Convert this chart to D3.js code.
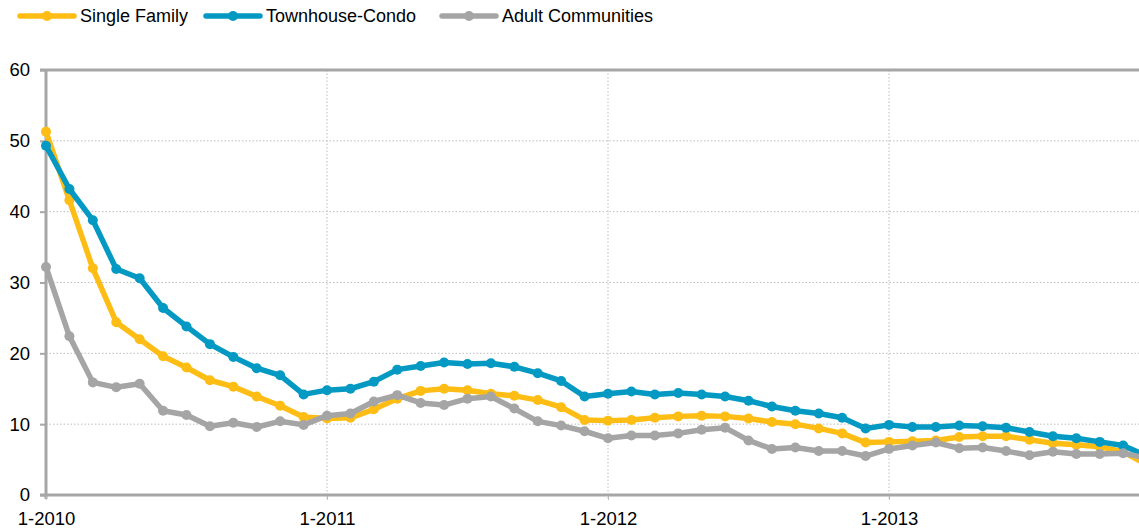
<!DOCTYPE html>
<html>
<head>
<meta charset="utf-8">
<script src="https://cdn.jsdelivr.net/npm/d3@7"></script>
<style>
  html, body { margin: 0; padding: 0; background: #fff; }
  svg { display: block; font-family: "Liberation Sans", Arial, Helvetica, sans-serif; }
</style>
</head>
<body>
<svg id="chart" width="1139" height="530"></svg>
<script>
// Monthly months-of-supply, Jan 2010 – Dec 2013
const months = d3.range(48).map(i => `${(i % 12) + 1}-${2010 + Math.floor(i / 12)}`);

const singleFamily = [
  51.3, 41.6, 32.0, 24.4, 22.0, 19.6, 18.0, 16.2, 15.3, 13.9, 12.6, 11.0,
  10.8, 10.9, 12.1, 13.6, 14.7, 15.0, 14.8, 14.3, 14.0, 13.4, 12.4, 10.6,
  10.5, 10.6, 10.9, 11.1, 11.2, 11.1, 10.8, 10.3, 10.0, 9.4, 8.7, 7.4,
  7.5, 7.6, 7.7, 8.2, 8.3, 8.3, 7.8, 7.3, 7.1, 6.8, 6.1, 4.3
];
const townhouseCondo = [
  49.3, 43.2, 38.8, 31.9, 30.6, 26.4, 23.8, 21.3, 19.5, 17.9, 16.9, 14.2,
  14.8, 15.0, 16.0, 17.7, 18.2, 18.7, 18.5, 18.6, 18.1, 17.2, 16.1, 13.9,
  14.3, 14.6, 14.2, 14.4, 14.2, 13.9, 13.3, 12.5, 11.9, 11.5, 10.9, 9.4,
  9.9, 9.6, 9.6, 9.8, 9.7, 9.5, 8.9, 8.3, 8.0, 7.5, 7.0, 5.5
];
const adultCommunities = [
  32.2, 22.4, 15.9, 15.2, 15.7, 11.9, 11.3, 9.7, 10.2, 9.6, 10.4, 9.9,
  11.2, 11.5, 13.2, 14.1, 13.0, 12.7, 13.6, 13.9, 12.2, 10.4, 9.8, 9.0,
  8.0, 8.4, 8.4, 8.7, 9.2, 9.5, 7.7, 6.5, 6.7, 6.2, 6.2, 5.5,
  6.5, 7.0, 7.4, 6.6, 6.7, 6.2, 5.6, 6.1, 5.8, 5.8, 5.9, 5.2
];
const seriesNames = ["Single Family", "Townhouse-Condo", "Adult Communities"];
const seriesColors = ["#fdbd14", "#0399c3", "#a5a5a5"];
const yTicks = [0, 10, 20, 30, 40, 50, 60];
const xTickMonths = [0, 12, 24, 36];

const series = [singleFamily, townhouseCondo, adultCommunities].map((values, k) => ({
  name: seriesNames[k], color: seriesColors[k], values
}));

const svg = d3.select("#chart");
const W = 1139;
const plotLeft = 46, plotTop = 70, plotBottom = 495;
const monthStep = 281 / 12;

const x = d3.scaleLinear().domain([0, 47]).range([plotLeft, plotLeft + 47 * monthStep]);
const y = d3.scaleLinear().domain([0, 60]).range([plotBottom, plotTop]);

const axisGray = "#a6a6a6";
const gridGray = "#bdbdbd";
const textColor = "#000";

// horizontal gridlines (dotted)
const g = svg.append("g");
g.selectAll("line.hgrid")
  .data(yTicks.filter(t => t > 0 && t < 60))
  .join("line")
  .attr("x1", plotLeft).attr("x2", W)
  .attr("y1", d => y(d)).attr("y2", d => y(d))
  .attr("stroke", gridGray).attr("stroke-width", 1)
  .attr("stroke-dasharray", "1.5,2");

// vertical gridlines at each January
g.selectAll("line.vgrid")
  .data(xTickMonths.slice(1))
  .join("line")
  .attr("x1", d => x(d)).attr("x2", d => x(d))
  .attr("y1", plotTop).attr("y2", plotBottom + 5)
  .attr("stroke", gridGray).attr("stroke-width", 1)
  .attr("stroke-dasharray", "1.5,2");

// top border line
g.append("line")
  .attr("x1", plotLeft - 6).attr("x2", W)
  .attr("y1", y(60)).attr("y2", y(60))
  .attr("stroke", axisGray).attr("stroke-width", 3);

// y axis
const yAxis = d3.axisLeft(y).tickValues(yTicks).tickSize(6).tickPadding(10);
const yAxisG = svg.append("g").attr("transform", `translate(${plotLeft},0)`).call(yAxis);
yAxisG.select(".domain").remove();
yAxisG.selectAll(".tick line").attr("stroke", axisGray).attr("stroke-width", 2);
yAxisG.selectAll(".tick text")
  .attr("font-size", 18.5).attr("fill", textColor)
  .attr("font-family", "Liberation Sans, Arial, sans-serif");
svg.append("line")
  .attr("x1", plotLeft).attr("x2", plotLeft)
  .attr("y1", plotTop).attr("y2", plotBottom + 4)
  .attr("stroke", axisGray).attr("stroke-width", 3);

// x axis
const xAxis = d3.axisBottom(x).tickValues(xTickMonths).tickFormat(i => months[i])
  .tickSize(5).tickPadding(12);
const xAxisG = svg.append("g").attr("transform", `translate(0,${plotBottom})`).call(xAxis);
xAxisG.select(".domain").remove();
xAxisG.selectAll(".tick line").attr("stroke", gridGray).attr("stroke-width", 1);
xAxisG.selectAll(".tick text")
  .attr("font-size", 18.5).attr("fill", textColor)
  .attr("font-family", "Liberation Sans, Arial, sans-serif");
svg.append("line")
  .attr("x1", plotLeft - 6).attr("x2", W)
  .attr("y1", plotBottom).attr("y2", plotBottom)
  .attr("stroke", axisGray).attr("stroke-width", 3);

// series lines with markers
const line = d3.line().x((d, i) => x(i)).y(d => y(d));
series.forEach(s => {
  const sg = svg.append("g");
  sg.append("path")
    .datum(s.values)
    .attr("d", line)
    .attr("fill", "none")
    .attr("stroke", s.color)
    .attr("stroke-width", 5.5)
    .attr("stroke-linejoin", "round")
    .attr("stroke-linecap", "round");
  sg.selectAll("circle")
    .data(s.values)
    .join("circle")
    .attr("cx", (d, i) => x(i))
    .attr("cy", d => y(d))
    .attr("r", 5)
    .attr("fill", s.color);
});

// legend
const legendX = [20, 206, 442];
const legend = svg.append("g");
series.forEach((s, k) => {
  const lg = legend.append("g").attr("transform", `translate(${legendX[k]},16)`);
  lg.append("line").attr("x1", 0).attr("x2", 54).attr("y1", 0).attr("y2", 0)
    .attr("stroke", s.color).attr("stroke-width", 5.5).attr("stroke-linecap", "round");
  lg.append("circle").attr("cx", 27).attr("cy", 0).attr("r", 5).attr("fill", s.color);
  lg.append("text").attr("x", 60).attr("y", 0).attr("dy", "0.35em")
    .attr("font-size", 18).attr("fill", textColor).text(s.name);
});
</script>
</body>
</html>
